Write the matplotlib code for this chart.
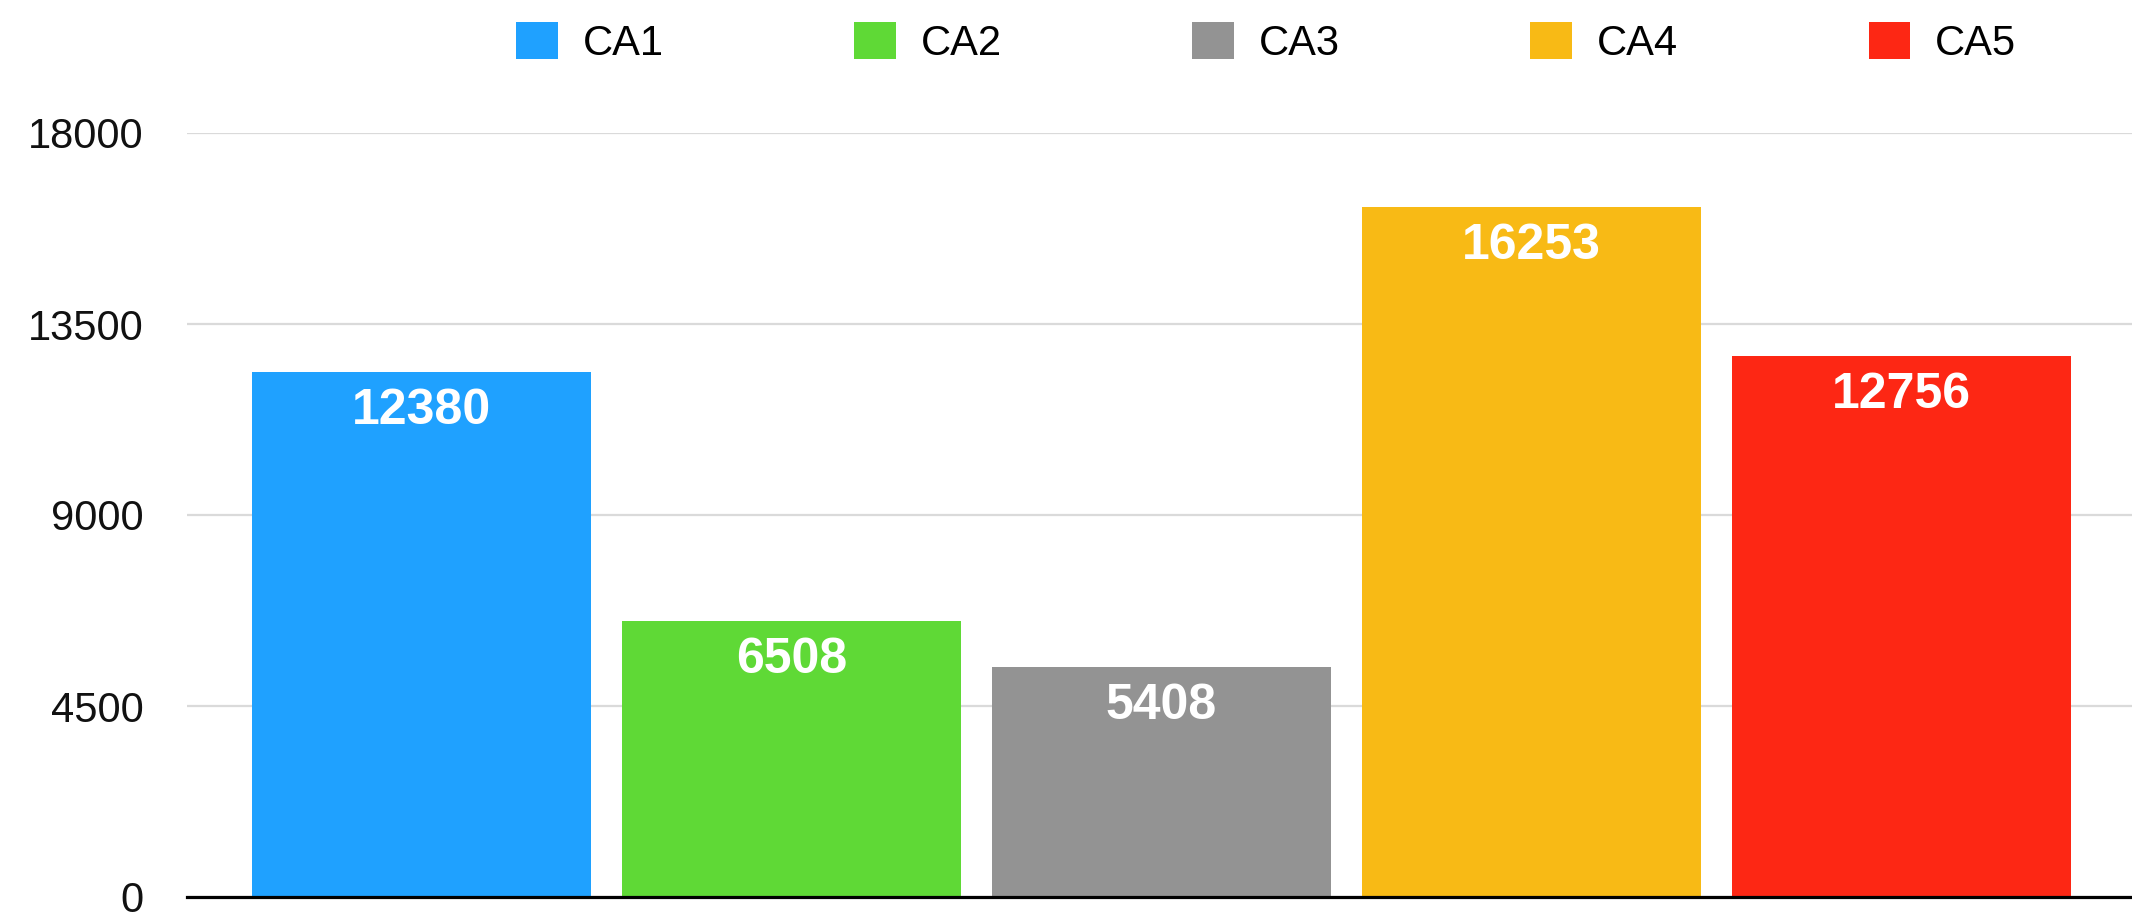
import matplotlib
matplotlib.use("Agg")
import matplotlib.pyplot as plt
from matplotlib.patches import Patch

categories = ["CA1", "CA2", "CA3", "CA4", "CA5"]
values = [12380, 6508, 5408, 16253, 12756]
colors = ["#1fa1ff", "#5fd936", "#939393", "#f8ba15", "#fd2714"]
yticks = [0, 4500, 9000, 13500, 18000]

plt.rcParams['font.family'] = ['Liberation Sans', 'DejaVu Sans']

W, H, DPI = 2132, 923, 100
fig = plt.figure(figsize=(W / DPI, H / DPI), dpi=DPI)
fig.patch.set_facecolor("white")

left_px, right_px, bottom_px, top_px = 187, 2132, 897, 133
ax = fig.add_axes([left_px / W, (H - bottom_px) / H,
                   (right_px - left_px) / W, (bottom_px - top_px) / H])

x = list(range(len(categories)))
bars = ax.bar(x, values, width=0.914, color=colors, zorder=2)

ax.set_xlim(-0.634, 4.623)
ax.set_ylim(0, 18000)
ax.set_yticks(yticks)
ax.set_yticklabels([str(t) for t in yticks])
ax.set_xticks([])
ax.tick_params(axis='y', length=0, pad=31, labelsize=30, labelcolor="#111111")
ax.yaxis.grid(True, color="#dadada", linewidth=1.6, zorder=0)
ax.set_axisbelow(True)
for s in ["top", "right", "left"]:
    ax.spines[s].set_visible(False)
ax.spines["bottom"].set_linewidth(2.3)
ax.spines["bottom"].set_color("black")
ax.spines["bottom"].set_zorder(3)

for xi, v in zip(x, values):
    ax.annotate(str(v), xy=(xi, v), xytext=(0, -34 * 72 / DPI),
                textcoords="offset points", ha="center", va="center_baseline",
                color="white", fontsize=36, fontweight="bold")

handles = [Patch(facecolor=c, edgecolor="none") for c in colors]
fig.legend(handles, categories, loc="center left",
           bbox_to_anchor=(516 / W, 1 - 43 / H), ncol=5, frameon=False,
           fontsize=30, handlelength=1.0, handleheight=1.0,
           handletextpad=0.6, columnspacing=4.57, borderpad=0,
           borderaxespad=0)

fig.savefig("out.png", dpi=DPI, facecolor="white")
